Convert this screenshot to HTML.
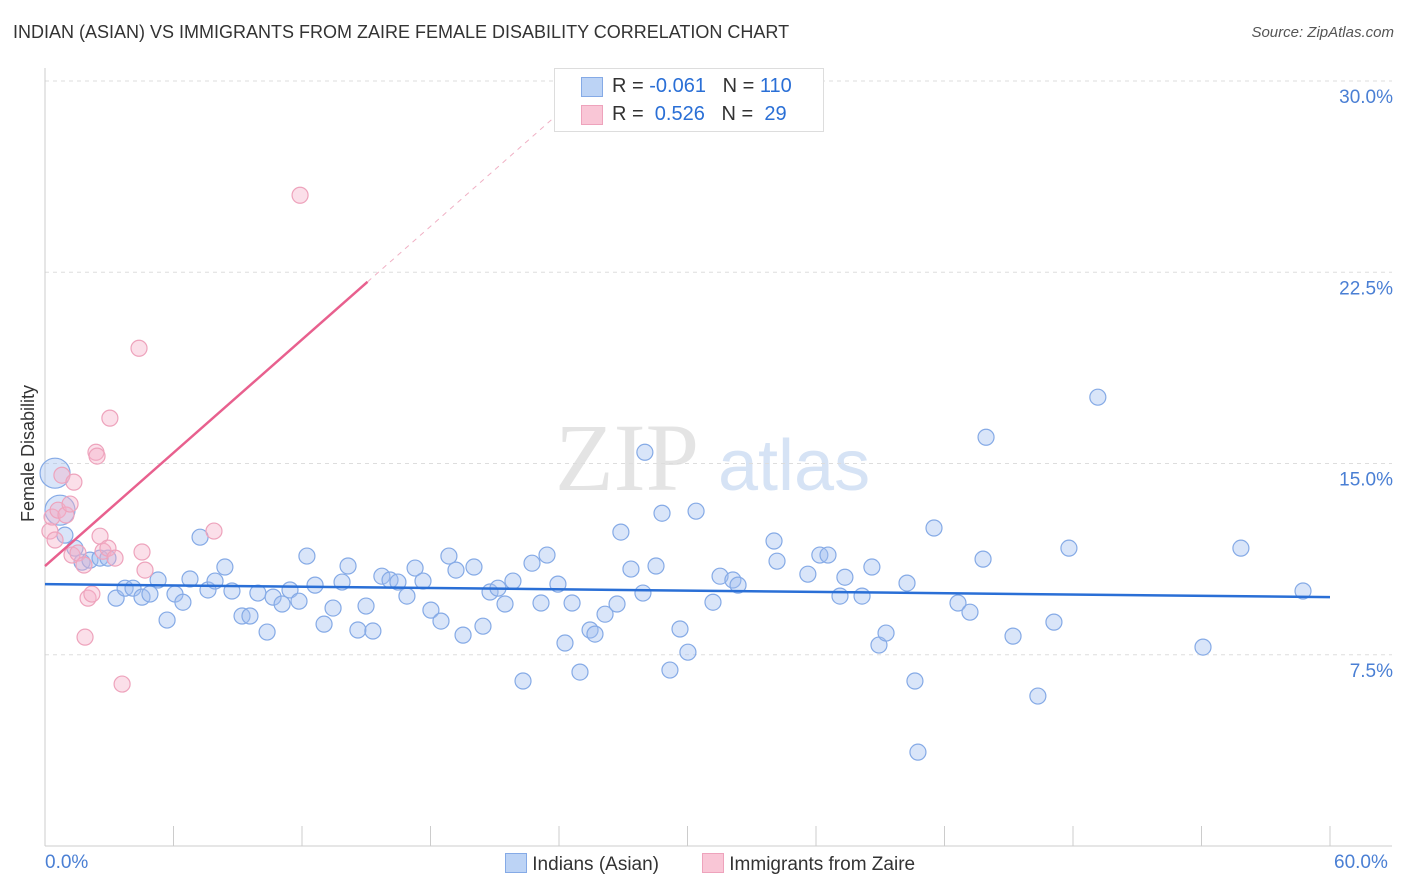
<!DOCTYPE html>
<html><head><meta charset="utf-8">
<style>
body{margin:0;background:#fff;font-family:"Liberation Sans",sans-serif;}
#wrap{position:relative;width:1406px;height:892px;overflow:hidden;}
.t{position:absolute;white-space:nowrap;}
</style></head>
<body>
<div id="wrap">
<div class="t" style="left:13px;top:22px;font-size:18px;color:#333;">INDIAN (ASIAN) VS IMMIGRANTS FROM ZAIRE FEMALE DISABILITY CORRELATION CHART</div>
<div class="t" style="right:12px;top:24px;font-size:15px;color:#555;font-style:italic;">Source: ZipAtlas.com</div>
<svg id="svg" width="1406" height="892" style="position:absolute;left:0;top:0"></svg>
</div>
<script>
const xTicks=[0,6,12,18,24,30,36,42,48,54,60];
const yTicks=[7.5,15,22.5,30];
const yTickLabels=["7.5%","15.0%","22.5%","30.0%"];
const blueX=[0.47,0.70,0.93,1.40,1.73,2.10,2.57,2.94,3.32,3.74,4.11,4.53,4.90,5.28,5.70,6.07,6.44,6.77,7.24,7.61,7.94,8.40,8.73,9.20,9.57,9.94,10.37,10.65,11.07,11.44,11.86,12.23,12.61,13.03,13.45,13.87,14.15,14.61,14.99,15.31,15.73,16.11,16.48,16.90,17.28,17.65,18.02,18.49,18.86,19.19,19.52,20.03,20.45,20.78,21.15,21.48,21.85,22.32,22.74,23.16,23.44,23.95,24.28,24.61,24.98,25.45,25.68,26.15,26.71,26.89,27.36,27.92,28.01,28.53,28.81,29.18,29.65,30.02,30.40,31.19,31.52,32.12,32.36,34.04,34.18,35.62,36.18,36.56,37.12,37.35,38.15,38.61,38.94,39.27,40.25,40.62,40.76,41.51,42.63,43.19,43.80,43.94,45.20,46.36,47.11,47.81,49.16,54.07,55.84,58.74];
const blueY=[14.62,13.17,12.19,11.68,11.13,11.21,11.29,11.29,9.72,10.11,10.11,9.76,9.88,10.43,8.86,9.88,9.56,10.47,12.11,10.04,10.39,10.94,10.00,9.02,9.02,9.92,8.39,9.76,9.49,10.04,9.60,11.37,10.23,8.70,9.33,10.35,10.98,8.47,9.41,8.43,10.58,10.43,10.35,9.80,10.90,10.39,9.25,8.82,11.37,10.82,8.27,10.94,8.62,9.96,10.11,9.49,10.39,6.47,11.09,9.53,11.41,10.27,7.96,9.53,6.82,8.47,8.31,9.09,9.49,12.31,10.86,9.92,15.44,10.98,13.05,6.90,8.51,7.60,13.13,9.56,10.58,10.43,10.23,11.96,11.17,10.66,11.41,11.41,9.80,10.54,9.80,10.94,7.88,8.35,10.31,6.47,3.68,12.47,9.53,9.17,11.25,16.03,8.23,5.88,8.78,11.68,17.60,7.80,11.68,10.00];
const pinkX=[0.23,0.33,0.47,0.61,0.79,0.98,1.17,1.35,1.26,1.54,1.82,1.87,2.01,2.19,2.38,2.43,2.57,2.71,2.94,3.03,3.27,3.60,4.39,4.53,4.67,7.89,11.91];
const pinkY=[12.35,12.90,12.00,13.17,14.54,12.98,13.41,14.27,11.41,11.49,11.02,8.19,9.72,9.88,15.44,15.29,12.15,11.56,11.68,16.78,11.29,6.35,19.52,11.53,10.82,12.35,25.52];
const blueTrend=[10.27,9.76];
const pinkTrend=[10.98,0.74];

const X=v=>45+v*(1285/60), Y=v=>846-v*(765/30);
const svg=document.getElementById('svg');const NS='http://www.w3.org/2000/svg';
function mk(t,a){const e=document.createElementNS(NS,t);for(const k in a)e.setAttribute(k,a[k]);svg.appendChild(e);return e;}
let w=mk('text',{x:555,y:490,'font-size':96,fill:'#e4e4e4','font-family':'Liberation Serif',});w.textContent='ZIP';


w=mk('text',{x:718,y:490,'font-size':72,fill:'#d6e3f5','font-family':'Liberation Sans'});w.textContent='atlas';


yTicks.forEach((v,i)=>{
 const g=mk('line',{x1:45,x2:1392,y1:Y(v),y2:Y(v),stroke:'#ddd','stroke-dasharray':'4,4'});
 
 
 const t=mk('text',{x:1393,y:Y(v)+22,'text-anchor':'end','font-size':19,fill:'#4a7fd4','font-family':'Liberation Sans'});
 t.textContent=yTickLabels[i];
 
 
});
mk('line',{x1:45,x2:45,y1:68,y2:846,stroke:'#ccc'});
mk('line',{x1:45,x2:1392,y1:846,y2:846,stroke:'#ccc'});
xTicks.forEach(v=>{const l=mk('line',{x1:X(v),x2:X(v),y1:826,y2:846,stroke:'#ccc'});
 
 });
blueX.forEach((v,i)=>{const c=mk('circle',{cx:X(v),cy:Y(blueY[i]),r:i<2?15:8,fill:'rgba(160,190,240,0.4)',stroke:'#85aae6','stroke-width':1.2});
 
 });
pinkX.forEach((v,i)=>{const c=mk('circle',{cx:X(v),cy:Y(pinkY[i]),r:8,fill:'rgba(245,175,200,0.4)',stroke:'#eea3bc','stroke-width':1.2});
 
 });
let l=mk('line',{x1:X(0),x2:X(60),y1:Y(blueTrend[0]),y2:Y(blueTrend[1]),stroke:'#2a6fd6','stroke-width':2.5});


l=mk('line',{x1:X(0),x2:X(15.06),y1:Y(pinkTrend[0]),y2:Y(pinkTrend[0]+pinkTrend[1]*15.06),stroke:'#e8608e','stroke-width':2.5});


l=mk('line',{x1:X(15.06),x2:X(23.8),y1:Y(pinkTrend[0]+pinkTrend[1]*15.06),y2:Y(pinkTrend[0]+pinkTrend[1]*23.8),stroke:'#f0b0c4','stroke-width':1,'stroke-dasharray':'5,5'});


</script>
<div class="t" style="left:-40px;top:443px;font-size:18px;color:#333;transform:rotate(-90deg);">Female Disability</div>
<div class="t" style="left:45px;top:852px;font-size:19px;color:#4a7fd4;">0.0%</div>
<div class="t" style="left:1334px;top:852px;font-size:19px;color:#4a7fd4;">60.0%</div>
<div style="position:absolute;left:554px;top:68px;width:268px;height:62px;border:1px solid #ddd;background:#fff;font-size:20px;color:#333;">
 <div style="position:absolute;left:26px;top:8px;width:20px;height:18px;background:#bcd3f5;border:1px solid #85aae6;"></div>
 <div class="t" style="left:57px;top:6px;">R = <span style="color:#2a6fd6">-0.061</span>&nbsp;&nbsp;&nbsp;N = <span style="color:#2a6fd6">110</span></div>
 <div style="position:absolute;left:26px;top:36px;width:20px;height:18px;background:#f9c6d6;border:1px solid #eea3bc;"></div>
 <div class="t" style="left:57px;top:34px;">R = &nbsp;<span style="color:#2a6fd6">0.526</span>&nbsp;&nbsp;&nbsp;N = &nbsp;<span style="color:#2a6fd6">29</span></div>
</div>
<div style="position:absolute;left:505px;top:853px;font-size:19px;color:#333;">
 <span style="display:inline-block;width:20px;height:18px;background:#bcd3f5;border:1px solid #85aae6;vertical-align:-3px;"></span> Indians (Asian)</div>
<div style="position:absolute;left:702px;top:853px;font-size:19px;color:#333;">
 <span style="display:inline-block;width:20px;height:18px;background:#f9c6d6;border:1px solid #eea3bc;vertical-align:-3px;"></span> Immigrants from Zaire</div>
</body></html>
